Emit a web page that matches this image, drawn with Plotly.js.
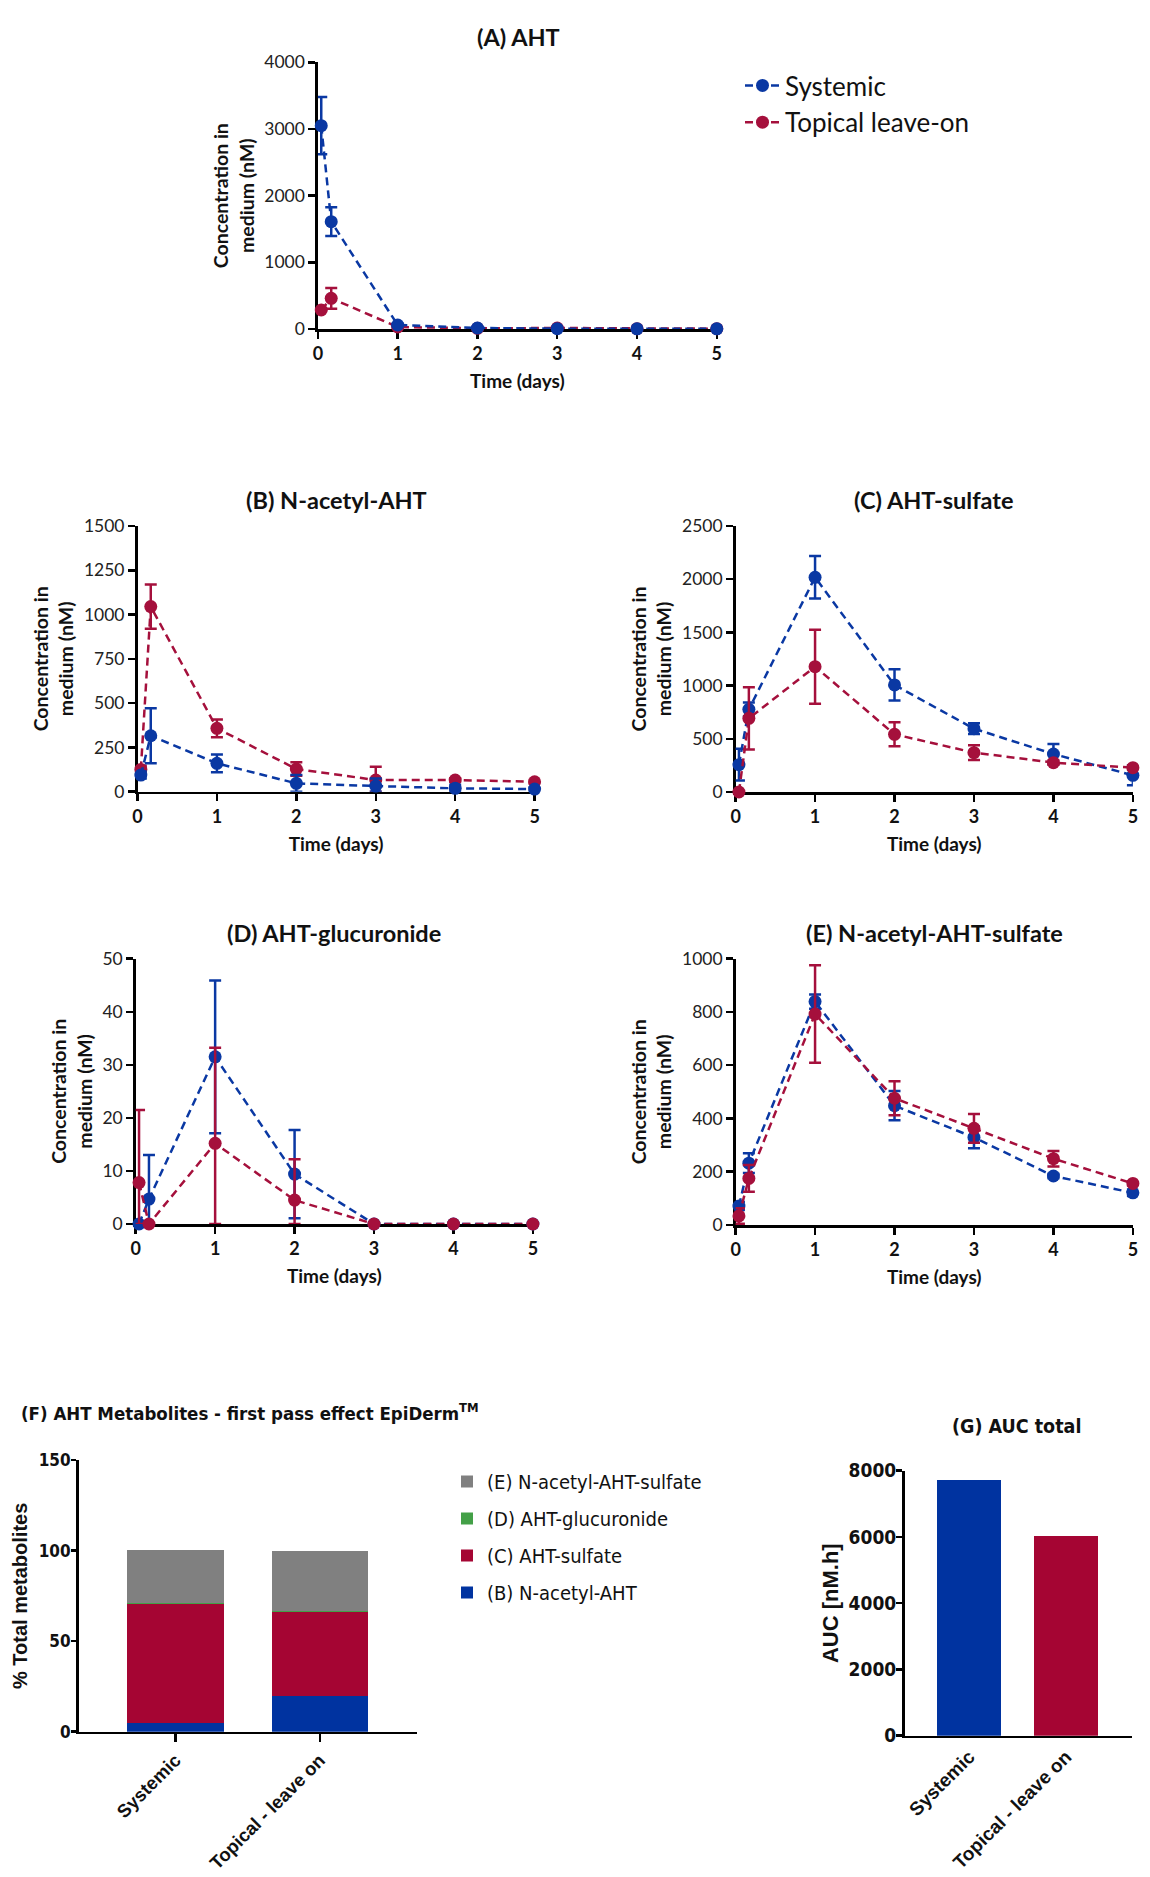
<!DOCTYPE html>
<html><head><meta charset="utf-8">
<script src="https://cdn.plot.ly/plotly-3.0.1.min.js"></script>
<style>html,body{margin:0;padding:0;background:#fff}#chart{width:1150px;height:1877px}</style>
</head><body><div id="chart"></div>
<script>
// ---------------- DATA ----------------
const timeDays = [0.042, 0.167, 1, 2, 3, 4, 5];
const seriesNames = ["Systemic", "Topical leave-on"];
const timeTicks = [0, 1, 2, 3, 4, 5];

// (A) AHT
const ahtSys = [3050, 1610, 60, 15, 5, 2, 2];
const ahtSysErr = [430, 215, 20, 5, 3, 0, 0];
const ahtTop = [285, 460, 30, 10, 15, 5, 5];
const ahtTopErr = [0, 155, 10, 5, 5, 0, 0];

// (B) N-acetyl-AHT
const nacSys = [94, 316, 160, 47, 32, 19, 15];
const nacSysErr = [20, 155, 50, 47, 43, 20, 10];
const nacTop = [126, 1045, 358, 128, 66, 66, 56];
const nacTopErr = [20, 125, 50, 38, 75, 10, 10];

// (C) AHT-sulfate
const sulSys = [257, 777, 2018, 1006, 595, 357, 157];
const sulSysErr = [150, 65, 200, 147, 50, 94, 94];
const sulTop = [0, 692, 1178, 542, 370, 276, 229];
const sulTopErr = [0, 292, 348, 113, 69, 20, 20];

// (D) AHT-glucuronide
const gluSys = [0, 4.7, 31.5, 9.4, 0, 0, 0];
const gluSysErr = [0, 8.3, 14.4, 8.3, 0, 0, 0];
const gluTop = [7.8, 0, 15.2, 4.5, 0, 0, 0];
const gluTopErr = [13.7, 0, 18, 7.7, 0, 0, 0];

// (E) N-acetyl-AHT-sulfate
const nasSys = [71, 232, 839, 448, 329, 184, 121];
const nasSysErr = [15, 37, 27, 55, 41, 8, 12];
const nasTop = [34, 175, 792, 476, 363, 249, 156];
const nasTopErr = [29, 50, 183, 64, 54, 29, 8];

// (F) % total metabolites
const metCategories = ["Systemic", "Topical - leave on"];
const metNames = ["(B) N-acetyl-AHT", "(C) AHT-sulfate", "(D) AHT-glucuronide", "(E) N-acetyl-AHT-sulfate"];
const metB = [4.6, 19.7];
const metC = [65.9, 46.6];
const metD = [0.3, 0.2];
const metE = [29.6, 33.5];

// (G) AUC total
const aucCategories = ["Systemic", "Topical - leave on"];
const aucValues = [7716, 6026];

// ---------------- STYLE ----------------
const W = 1150, H = 1877;
const BLUE = "#0A38A3", RED = "#A5103C";
const BAR_BLUE = "#0033A0", BAR_RED = "#A50533", BAR_GRAY = "#808080", BAR_GREEN = "#43A047";
const FT = "Lato, 'Open Sans', sans-serif";
const FN = "'Liberation Sans Narrow', 'DejaVu Sans Condensed', 'Liberation Sans', sans-serif";
const FA = "'Liberation Sans', Arial, sans-serif";

function dx(a, b) { return [a / W, b / W]; }
function dy(top, bottom) { return [1 - bottom / H, 1 - top / H]; }

const boxes = {
  1: {x: [317.9, 716.8], y: [62.3, 329]},
  2: {x: [137.5, 534.6], y: [526, 791.7]},
  3: {x: [735.6, 1132.9], y: [526, 792]},
  4: {x: [135.7, 532.9], y: [958.7, 1224]},
  5: {x: [735.6, 1132.9], y: [958.7, 1225]},
  6: {x: [78.5, 417], y: [1460, 1731.7]},
  7: {x: [904.5, 1131.7], y: [1470.7, 1735.7]}
};

function errObj(vals, err, color) {
  return {type: 'data', symmetric: false, array: err,
    arrayminus: err.map((e, i) => Math.min(e, vals[i])),
    color: color, thickness: 2.5, width: 6, visible: true};
}
function lineTrace(n, vals, err, color, name, showlegend, rank) {
  const s = n === 1 ? '' : n;
  return {type: 'scatter', mode: 'lines+markers', x: timeDays, y: vals,
    xaxis: 'x' + s, yaxis: 'y' + s, name: name, showlegend: showlegend, legend: 'legend',
    legendrank: rank,
    line: {color: color, width: 2.5, dash: '8px,5px'},
    marker: {color: color, size: 13},
    error_y: errObj(vals, err, color), cliponaxis: false, hoverinfo: 'x+y'};
}

const traces = [
  // A: red below, blue on top (these two also feed the legend)
  lineTrace(1, ahtTop, ahtTopErr, RED, seriesNames[1], true, 2),
  lineTrace(1, ahtSys, ahtSysErr, BLUE, seriesNames[0], true, 1),
  lineTrace(2, nacTop, nacTopErr, RED, seriesNames[1], false, 2),
  lineTrace(2, nacSys, nacSysErr, BLUE, seriesNames[0], false, 1),
  lineTrace(3, sulSys, sulSysErr, BLUE, seriesNames[0], false, 1),
  lineTrace(3, sulTop, sulTopErr, RED, seriesNames[1], false, 2),
  lineTrace(4, gluSys, gluSysErr, BLUE, seriesNames[0], false, 1),
  lineTrace(4, gluTop, gluTopErr, RED, seriesNames[1], false, 2),
  lineTrace(5, nasSys, nasSysErr, BLUE, seriesNames[0], false, 1),
  lineTrace(5, nasTop, nasTopErr, RED, seriesNames[1], false, 2)
];

const metVals = [metB, metC, metD, metE];
const metColors = [BAR_BLUE, BAR_RED, BAR_GREEN, BAR_GRAY];
metVals.forEach((v, i) => {
  traces.push({type: 'bar', x: metCategories, y: v, name: metNames[i], xaxis: 'x6', yaxis: 'y6',
    marker: {color: metColors[i], line: {width: 0}}, width: 0.668, legend: 'legend2',
    legendgroup: 'g' + i, legendrank: 4 - i, showlegend: true});
});
traces.push({type: 'bar', x: aucCategories, y: aucValues, xaxis: 'x7', yaxis: 'y7', showlegend: false,
  marker: {color: [BAR_BLUE, BAR_RED], line: {width: 0}}, width: 0.664, name: 'AUC total'});

// ---------------- LAYOUT ----------------
const layout = {
  width: W, height: H, margin: {l: 0, r: 0, t: 0, b: 0},
  paper_bgcolor: '#fff', plot_bgcolor: 'rgba(0,0,0,0)',
  barmode: 'stack', showlegend: true,
  legend: {x: 740 / W, y: 1 - 62 / H, xanchor: 'left', yanchor: 'top', traceorder: 'normal',
    itemwidth: 35,
    font: {family: FT, size: 26, color: '#111'}, bgcolor: 'rgba(0,0,0,0)', borderwidth: 0},
  legend2: {x: 447 / W, y: 1 - 1462 / H, xanchor: 'left', yanchor: 'top',
    traceorder: 'grouped', tracegroupgap: 8,
    font: {family: FN, size: 20, color: '#111'}, bgcolor: 'rgba(0,0,0,0)', borderwidth: 0},
  annotations: [],
  font: {family: FT, color: '#111'}
};

const yCfg = {1: [4000, 1000], 2: [1500, 250], 3: [2500, 500], 4: [50, 10], 5: [1000, 200]};
for (let n = 1; n <= 5; n++) {
  const s = n === 1 ? '' : n;
  layout['xaxis' + s] = {domain: dx(...boxes[n].x), anchor: 'y' + s, range: [0, 5],
    tickvals: timeTicks, ticks: 'outside', ticklen: 7, tickwidth: 2.5, tickcolor: '#000',
    showline: true, linewidth: 2.5, linecolor: '#000', showgrid: false, zeroline: false,
    layer: 'below traces', fixedrange: true,
    tickfont: {family: FT, size: 18, color: '#111', weight: 'bold'},
    title: {text: 'Time (days)', font: {family: FT, size: 19, color: '#111', weight: 'bold'}, standoff: 12}};
  layout['yaxis' + s] = {domain: dy(...boxes[n].y), anchor: 'x' + s, range: [0, yCfg[n][0]],
    dtick: yCfg[n][1], tick0: 0, ticks: 'outside', ticklen: 7, tickwidth: 2.5, tickcolor: '#000',
    showline: true, linewidth: 2.5, linecolor: '#000', showgrid: false, zeroline: false,
    layer: 'below traces', fixedrange: true,
    tickfont: {family: FT, size: 17.5, color: '#222'},
    title: {text: 'Concentration in<br>medium (nM)', font: {family: FT, size: 19.5, color: '#111', weight: 'bold'}, standoff: 5}};
}
// F
layout.xaxis6 = {domain: dx(...boxes[6].x), anchor: 'y6', type: 'category', range: [-0.671, 1.673],
  ticks: 'outside', ticklen: 8, tickwidth: 2.5, tickcolor: '#000', showline: true, linewidth: 2.5,
  linecolor: '#000', showgrid: false, zeroline: false, tickangle: -45, fixedrange: true,
  tickfont: {family: FA, size: 18.5, color: '#111', weight: 'bold'}};
layout.yaxis6 = {domain: dy(...boxes[6].y), anchor: 'x6', range: [0, 150], dtick: 50, ticks: 'outside',
  ticklen: 5, tickwidth: 2.5, tickcolor: '#000', showline: true, linewidth: 2.5, linecolor: '#000',
  showgrid: false, zeroline: false, fixedrange: true, ticklabelstandoff: -3,
  tickfont: {family: FN, size: 17, color: '#111', weight: 'bold'},
  title: {text: '% Total metabolites', font: {family: FA, size: 20, color: '#111', weight: 'bold'}, standoff: 6}};
// G
layout.xaxis7 = {domain: dx(...boxes[7].x), anchor: 'y7', type: 'category', range: [-0.669, 1.68],
  ticks: '', showline: true, linewidth: 2.5, linecolor: '#000', showgrid: false, zeroline: false,
  tickangle: -45, fixedrange: true,
  tickfont: {family: FA, size: 19, color: '#111', weight: 'bold'}};
layout.yaxis7 = {domain: dy(...boxes[7].y), anchor: 'x7', range: [0, 8000], dtick: 2000, ticks: 'outside',
  ticklen: 6, tickwidth: 2.5, tickcolor: '#000', showline: true, linewidth: 2.5, linecolor: '#000',
  showgrid: false, zeroline: false, fixedrange: true, ticklabelstandoff: -4,
  tickfont: {family: FN, size: 19, color: '#111', weight: 'bold'},
  title: {text: 'AUC [nM.h]', font: {family: FA, size: 22, color: '#111', weight: 'bold'}, standoff: 4}};

function title(text, x, y, font, size, anchor) {
  layout.annotations.push({text: text, xref: 'paper', yref: 'paper', x: x / W, y: 1 - y / H,
    xanchor: anchor || 'center', yanchor: 'middle', showarrow: false,
    font: {family: font, size: size, color: '#111', weight: 'bold'}});
}
title('(A) AHT', 518, 37, FT, 23.5);
title('(B) N-acetyl-AHT', 336, 500, FT, 23.5);
title('(C) AHT-sulfate', 934, 500, FT, 23.5);
title('(D) AHT-glucuronide', 334, 933, FT, 23.5);
title('(E) N-acetyl-AHT-sulfate', 934, 933, FT, 23.5);
title('(F) AHT Metabolites - first pass effect EpiDerm<sup>TM</sup>', 19, 1412, FN, 18.5, 'left');
title('(G) AUC total', 1016, 1426, FN, 19.5);

Plotly.newPlot('chart', traces, layout, {staticPlot: true, displayModeBar: false});
</script>
</body></html>
